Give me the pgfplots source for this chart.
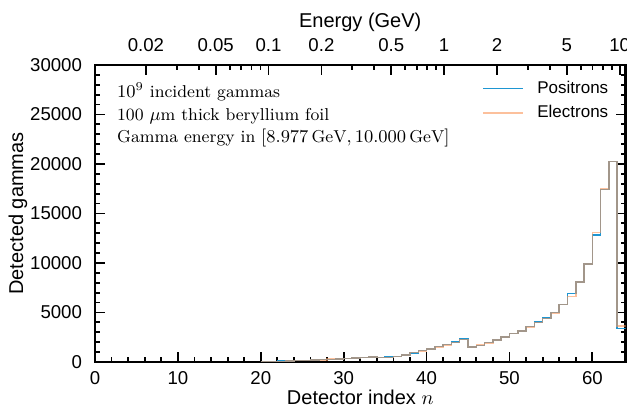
\documentclass[border=0pt]{standalone}
\usepackage{fontspec}
\newfontfamily\arial{Liberation Sans}
\usepackage{pgfplots}
\usepackage{pgfplotstable}
\pgfplotsset{compat=1.18}
\usetikzlibrary{calc}
\definecolor{poscol}{RGB}{30,150,210}
\definecolor{elecol}{RGB}{250,150,90}

\pgfplotstableread{
n p e
20 20 20
21 50 50
22 80 70
23 100 110
24 130 130
25 160 150
26 190 200
27 230 220
28 270 280
29 310 300
30 350 360
31 400 390
32 450 460
33 500 490
34 430 440
35 480 470
36 560 570
37 700 690
38 930 950
39 1140 1130
40 1320 1300
41 1550 1530
42 1760 1740
43 2000 1980
44 2300 2280
45 1520 1510
46 1690 1700
47 1960 1940
48 2230 2200
49 2540 2510
50 2900 2890
51 3130 3120
52 3580 3540
53 4030 3990
54 4420 4400
55 5000 4960
56 5800 5820
57 6900 6600
58 8080 8100
59 9900 9920
60 12830 13100
61 17440 17450
62 20230 20250
63 3400 3640
64 3400 3640
}\data

\begin{document}
\begin{tikzpicture}
\begin{axis}[
  name=main,
  scale only axis, width=265.25pt, height=148.5pt,
  xmin=0, xmax=64, ymin=0, ymax=30000,
  xtick={0,10,...,60}, minor x tick num=4,
  ytick={0,5000,...,30000}, minor y tick num=4,
  scaled y ticks=false,
  xtick pos=bottom,
  tick align=inside,
  major tick length=5pt, minor tick length=2.5pt,
  every tick/.style={black, line width=0.9pt},
  axis line style={line width=1.1pt},
  /pgf/number format/1000 sep={},
  /pgf/number format/assume math mode=true,
  tick label style={font=\arial\fontsize{9.3}{11}\selectfont},
  xticklabel style={yshift=-1pt},
  yticklabel style={xshift=-3pt},
  xlabel={Detector index $n$}, ylabel={Detected gammas},
  label style={font=\arial\fontsize{10}{12}\selectfont},
  xlabel style={at={(axis description cs:0.5,-0.144)}, anchor=base},
  ylabel style={at={(axis description cs:-0.145,0.5)}, anchor=center},
  legend style={draw=none, fill=none, font=\arial\fontsize{8.5}{10}\selectfont,
    at={(rel axis cs:0.987,0.975)}, anchor=north east, row sep=0.5pt,
    /tikz/every odd column/.append style={column sep=5pt}},
  legend image post style={xscale=1.15},
  legend cell align=left,
]
\addplot[const plot, poscol, line width=0.75pt] table[x=n,y=p] {\data};
\addplot[const plot, elecol, line width=0.75pt, opacity=0.6] table[x=n,y=e] {\data};
\legend{Positrons, Electrons}
\node[anchor=base west, inner sep=0, font=\fontsize{8.6}{11}\selectfont] at (rel axis cs:0.041,0.889) {$10^9$ incident gammas};
\node[anchor=base west, inner sep=0, font=\fontsize{8.6}{11}\selectfont] at (rel axis cs:0.041,0.812) {100 $\mu$m thick beryllium foil};
\node[anchor=base west, inner sep=0, font=\fontsize{8.6}{11}\selectfont] at (rel axis cs:0.041,0.739) {Gamma energy in $[8.977\,\mathrm{GeV}, 10.000\,\mathrm{GeV}]$};
\end{axis}
\begin{axis}[
  scale only axis, width=265.25pt, height=148.5pt,
  xmode=log, xmin=0.01026, xmax=10.8, ymin=0, ymax=1,
  axis x line*=top, axis y line=none,
  xtick={0.02,0.05,0.1,0.2,0.5,1,2,5,10},
  xticklabels={0.02,0.05,0.1,0.2,0.5,1,2,5,10},
  minor xtick={0.03,0.04,0.06,0.07,0.08,0.09,0.3,0.4,0.6,0.7,0.8,0.9,3,4,6,7,8,9},
  tick align=inside,
  major tick length=5pt, minor tick length=2.5pt,
  every tick/.style={black, line width=0.9pt},
  axis line style={line width=1.1pt},
  tick label style={font=\arial\fontsize{9.3}{11}\selectfont},
  xticklabel style={yshift=3pt},
  xlabel={Energy (GeV)},
  xlabel style={font=\arial\fontsize{10}{12}\selectfont, at={(axis description cs:0.5,1.125)}, anchor=base},
]
\end{axis}
\pgfresetboundingbox
\path[use as bounding box] ($(main.south west)+(-47.5pt,-23.5pt)$) rectangle ($(main.north east)+(0.75pt,32.5pt)$);
\end{tikzpicture}
\end{document}
